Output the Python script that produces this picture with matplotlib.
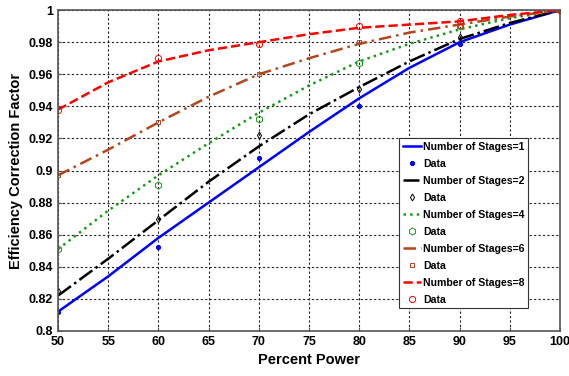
import numpy as np
import matplotlib
matplotlib.use("Agg")
import matplotlib.pyplot as plt

plt.rcParams['font.family'] = ['Liberation Sans', 'DejaVu Sans']

# Fitted curves sampled every 5 percent
power_fit = [50, 55, 60, 65, 70, 75, 80, 85, 90, 95, 100]
fit_s1 = [0.812, 0.834, 0.858, 0.880, 0.902, 0.924, 0.945, 0.964, 0.980, 0.991, 1.000]
fit_s2 = [0.822, 0.845, 0.869, 0.893, 0.915, 0.935, 0.952, 0.968, 0.982, 0.992, 1.000]
fit_s4 = [0.851, 0.875, 0.897, 0.917, 0.936, 0.953, 0.968, 0.979, 0.988, 0.995, 1.000]
fit_s6 = [0.897, 0.913, 0.930, 0.946, 0.960, 0.970, 0.979, 0.986, 0.991, 0.996, 1.000]
fit_s8 = [0.938, 0.955, 0.968, 0.975, 0.980, 0.985, 0.989, 0.991, 0.993, 0.997, 1.000]

# Measured data
power_data = [50, 60, 70, 80, 90, 100]
data_s1 = [0.812, 0.852, 0.908, 0.940, 0.979, 1.000]
data_s2 = [0.825, 0.870, 0.922, 0.951, 0.983, 1.000]
data_s4 = [0.851, 0.891, 0.932, 0.967, 0.990, 1.000]
data_s6 = [0.897, 0.930, 0.960, 0.980, 0.990, 1.000]
data_s8 = [0.938, 0.970, 0.979, 0.990, 0.993, 1.000]

stages = ["1", "2", "4", "6", "8"]
x_ticks = [50, 55, 60, 65, 70, 75, 80, 85, 90, 95, 100]
y_ticks = [0.8, 0.82, 0.84, 0.86, 0.88, 0.9, 0.92, 0.94, 0.96, 0.98, 1.0]

fig = plt.figure(figsize=(5.69, 3.76), dpi=100)
ax = fig.add_axes([0.102, 0.12, 0.882, 0.853])

brown = "#b5451b"
styles = [
    dict(color="#0000ff", ls="-", marker=".", ms=6, mfc="#0000ff"),
    dict(color="#000000", ls="-.", marker="d", ms=3.5, mfc="none"),
    dict(color="#1a9a1a", ls=":", marker="h", ms=5, mfc="none"),
    dict(color=brown, ls=(0, (5, 2, 1, 2)), marker="s", ms=3.5, mfc="none"),
    dict(color="#ff0000", ls="--", marker="o", ms=4.5, mfc="none"),
]
fits = [fit_s1, fit_s2, fit_s4, fit_s6, fit_s8]
datas = [data_s1, data_s2, data_s4, data_s6, data_s8]

for n, fit, dat, st in zip(stages, fits, datas, styles):
    ax.plot(power_fit, fit, color=st["color"], ls=st["ls"], lw=1.8,
            label=f"Number of Stages={n}")
    ax.plot(power_data, dat, ls="none", marker=st["marker"], ms=st["ms"],
            mfc=st["mfc"], mec=st["color"], mew=0.7, label="Data")

ax.set_xlim(50, 100)
ax.set_ylim(0.8, 1.0)
ax.set_xticks(x_ticks)
ax.set_yticks(y_ticks)
ax.set_xticklabels([str(v) for v in x_ticks])
ax.set_yticklabels(["0.8", "0.82", "0.84", "0.86", "0.88", "0.9", "0.92",
                    "0.94", "0.96", "0.98", "1"])
for lab in ax.get_xticklabels() + ax.get_yticklabels():
    lab.set_fontweight("bold")
    lab.set_fontsize(9)
ax.tick_params(direction="in", length=3, color="#555555")
ax.grid(True, color="#222222", ls=(0, (2, 2)), lw=0.8)
for sp in ax.spines.values():
    sp.set_color("#555555")
    sp.set_linewidth(1.2)

ax.set_xlabel("Percent Power", fontsize=10.5, fontweight="bold")
ax.set_ylabel("Efficiency Correction Factor", fontsize=10.5, fontweight="bold")

leg = ax.legend(loc="lower right", bbox_to_anchor=(0.937, 0.07),
                prop=dict(size=7.6, weight="bold"), handlelength=1.7,
                handletextpad=0.2, labelspacing=0.66, borderpad=0.35,
                borderaxespad=0, fancybox=False, framealpha=1,
                edgecolor="#333333")
leg.get_frame().set_linewidth(0.8)

fig.savefig("out.png", dpi=100)
